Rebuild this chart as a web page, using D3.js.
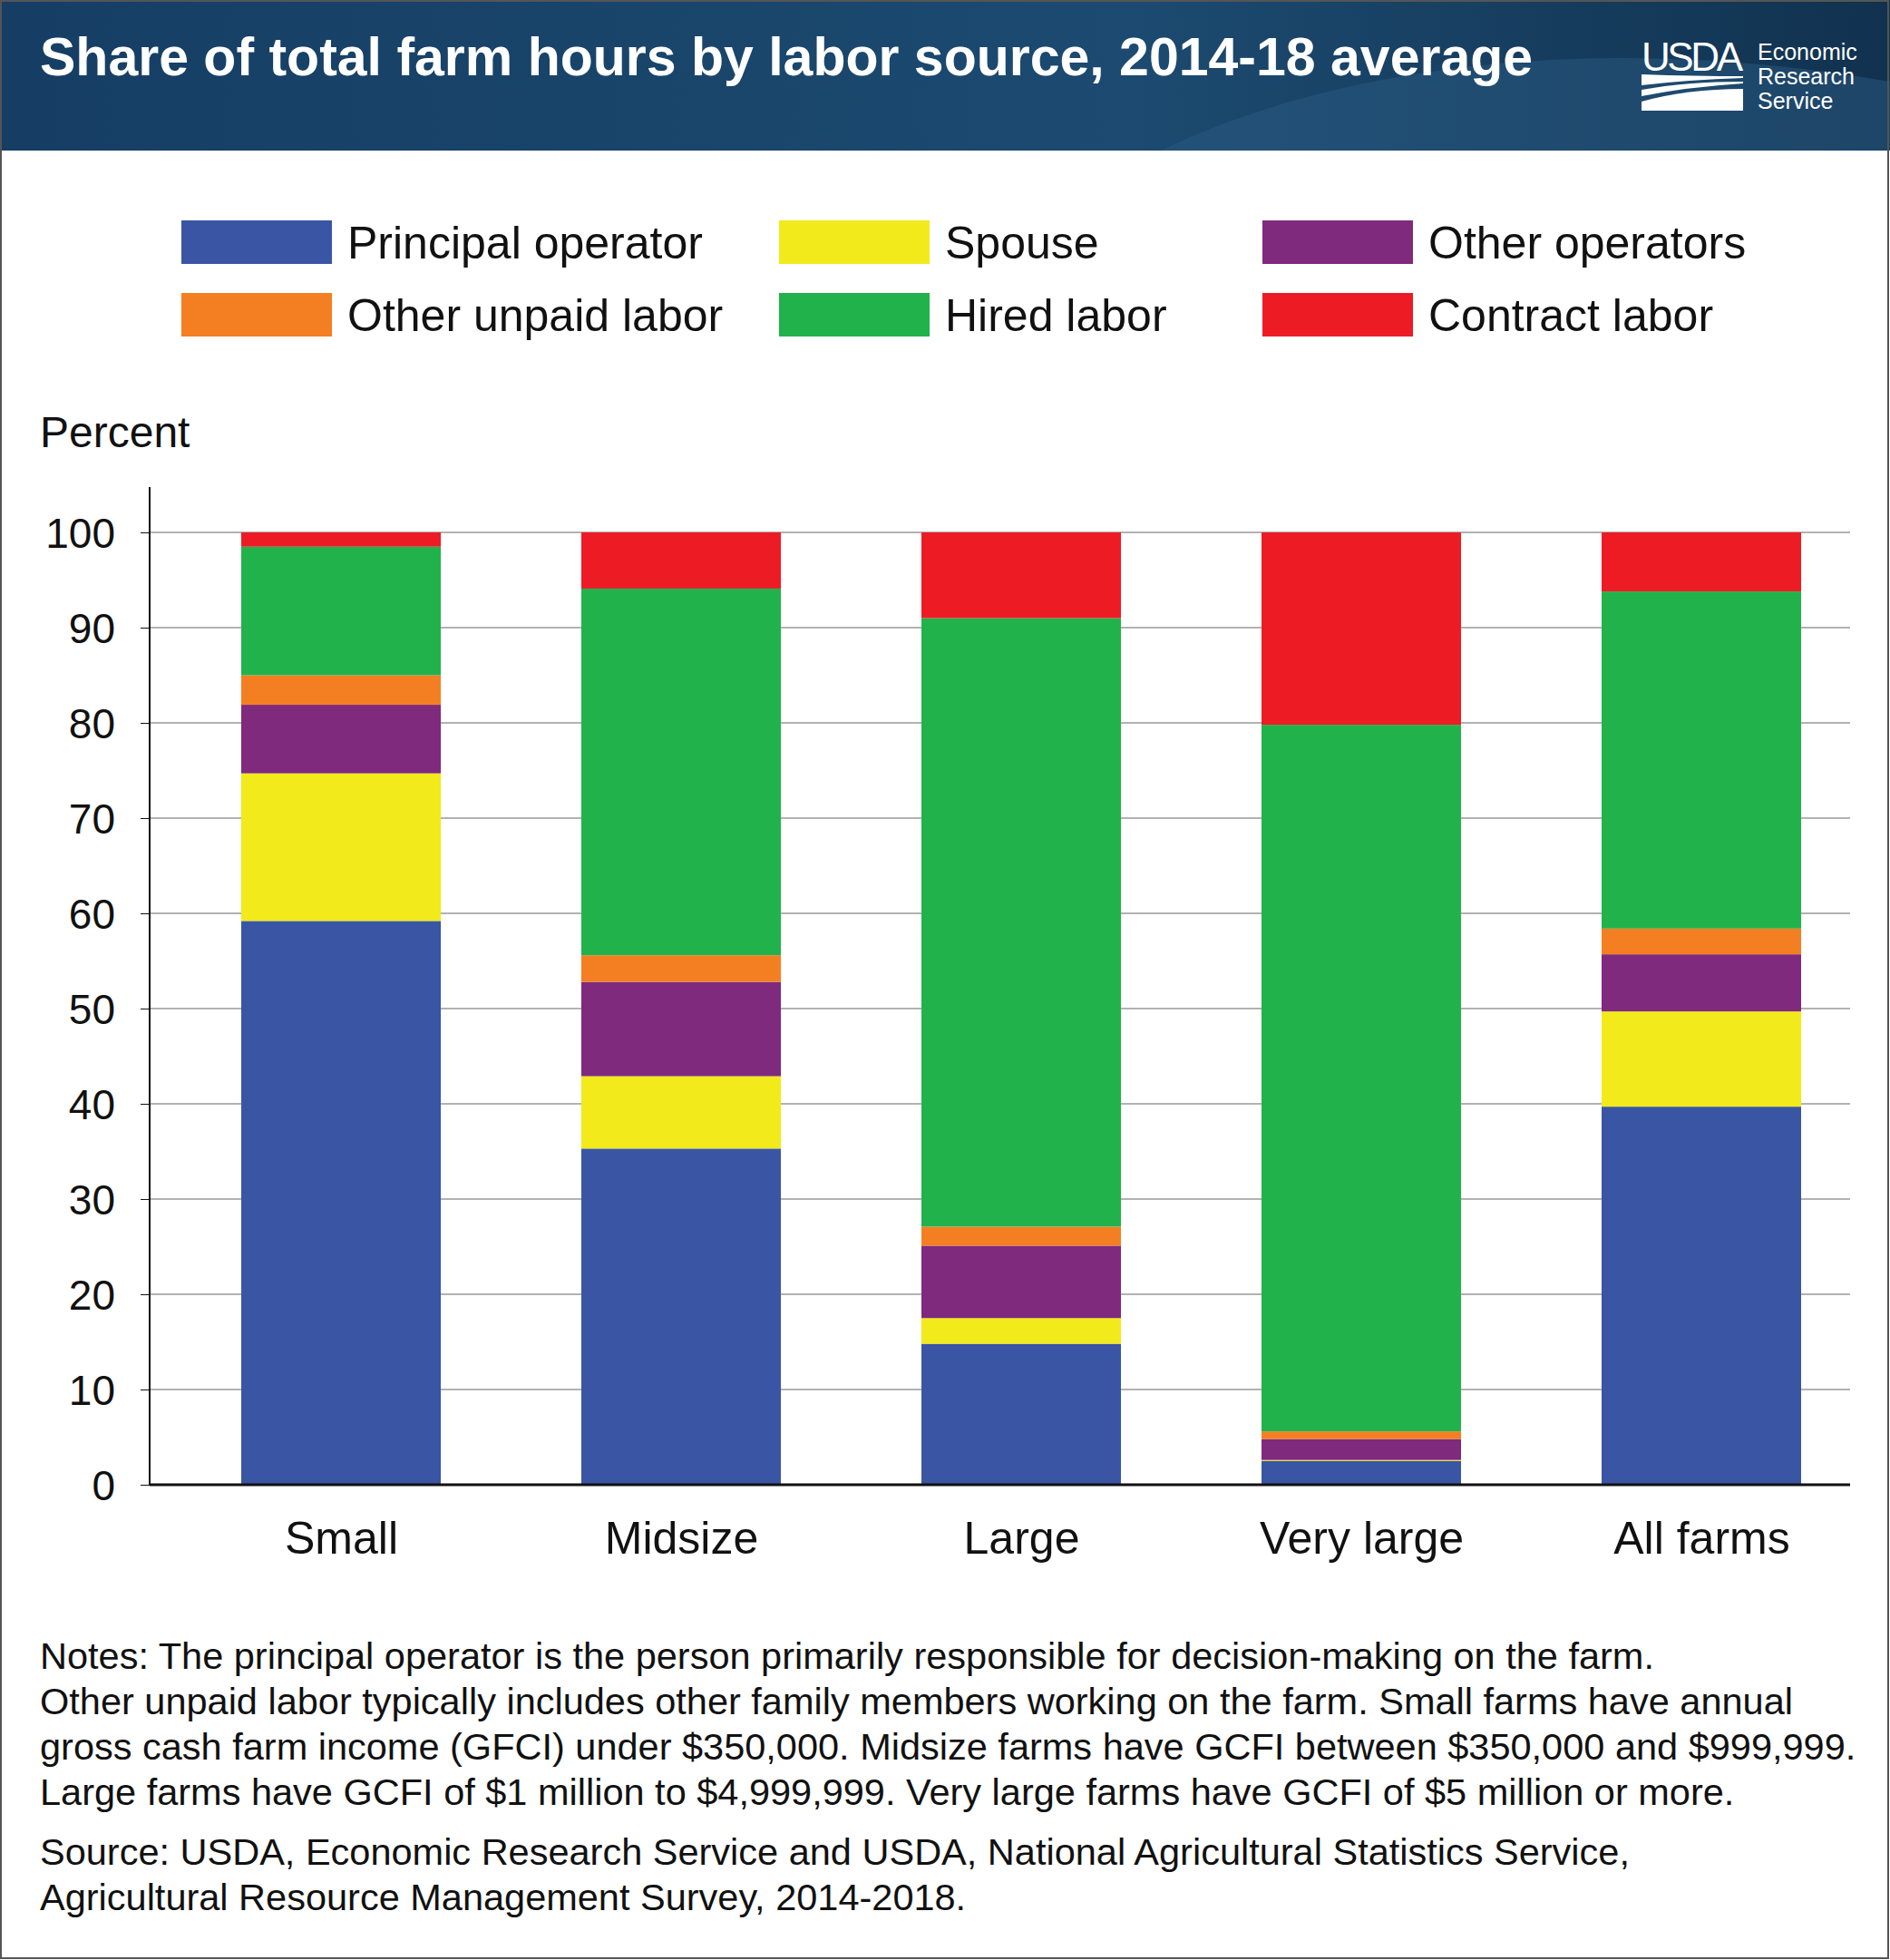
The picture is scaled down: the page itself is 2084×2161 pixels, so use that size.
<!DOCTYPE html>
<html>
<head>
<meta charset="utf-8">
<script src="https://cdn.jsdelivr.net/npm/d3@7"></script>
<style>
body { margin: 0; background: #fff; }
text { font-family: "Liberation Sans", Arial, Helvetica, sans-serif; }
</style>
</head>
<body>
<div id="chart"></div>
<script>
var categories = ["Small", "Midsize", "Large", "Very large", "All farms"];
var seriesNames = ["Principal operator", "Spouse", "Other operators", "Other unpaid labor", "Hired labor", "Contract labor"];
var COLORS = ["#3a55a4", "#f2ea1a", "#7f2a7c", "#f47f22", "#22b24c", "#ed1c24"];
var principal = [59.2, 35.3, 14.8, 2.5, 39.7];
var spouse = [15.5, 7.6, 2.7, 0.1, 10.0];
var otherOps = [7.2, 9.9, 7.6, 2.2, 6.0];
var unpaid = [3.1, 2.8, 2.0, 0.8, 2.7];
var hired = [13.5, 38.5, 63.9, 74.2, 35.4];
var contract = [1.5, 5.9, 9.0, 20.2, 6.2];
var yTicks = [0, 10, 20, 30, 40, 50, 60, 70, 80, 90, 100];
var notes = [
  "Notes: The principal operator is the person primarily responsible for decision-making on the farm.",
  "Other unpaid labor typically includes other family members working on the farm. Small farms have annual",
  "gross cash farm income (GFCI) under $350,000. Midsize farms have GCFI between $350,000 and $999,999.",
  "Large farms have GCFI of $1 million to $4,999,999. Very large farms have GCFI of $5 million or more."
];
var source = [
  "Source: USDA, Economic Research Service and USDA, National Agricultural Statistics Service,",
  "Agricultural Resource Management Survey, 2014-2018."
];

var W = 2084, H = 2161;
var svg = d3.select("#chart").append("svg").attr("width", W).attr("height", H);

// header
var defs = svg.append("defs");
var grad = defs.append("linearGradient").attr("id", "hdr").attr("x1", 0).attr("x2", 1);
grad.append("stop").attr("offset", 0).attr("stop-color", "#163e64");
grad.append("stop").attr("offset", 0.6).attr("stop-color", "#1c4a70");
grad.append("stop").attr("offset", 1).attr("stop-color", "#11324f");
svg.append("rect").attr("width", W).attr("height", 166).attr("fill", "url(#hdr)");
svg.append("path").attr("d", "M1280,166 C1500,60 1800,40 2084,90 L2084,166 Z")
  .attr("fill", "#2a5a82").attr("opacity", 0.5);
svg.append("text").attr("x", 44).attr("y", 83).attr("fill", "#fff")
  .attr("font-size", 59).attr("font-weight", "bold").text("Share of total farm hours by labor source, 2014-18 average");
// logo
var logo = svg.append("g").attr("transform", "translate(1810,44)");
logo.append("text").attr("x", 0).attr("y", 34).attr("fill", "#fff").attr("font-size", 44)
  .attr("font-family", "Liberation Serif, serif").attr("textLength", 112).text("USDA");
logo.append("path").attr("d", "M0,38 Q60,40 112,40 L112,42 Q50,44 0,50 Z").attr("fill", "#fff");
logo.append("path").attr("d", "M0,55 Q50,46 112,46 L112,48 Q50,52 0,62 Z").attr("fill", "#fff");
logo.append("path").attr("d", "M0,68 Q50,54 112,54 L112,78 L0,78 Z").attr("fill", "#fff");
["Economic", "Research", "Service"].forEach(function (t, i) {
  logo.append("text").attr("x", 128).attr("y", 22 + i * 27).attr("fill", "#fff").attr("font-size", 25).text(t);
});

// frame
svg.append("rect").attr("x", 1).attr("y", 1).attr("width", W - 3).attr("height", H - 3)
  .attr("fill", "none").attr("stroke", "#555").attr("stroke-width", 2);

// legend
var legCols = [200, 859, 1392];
var legend = svg.selectAll("g.legenditem").data(seriesNames).enter().append("g")
  .attr("class", "legenditem")
  .attr("transform", function (d, i) { return "translate(" + legCols[i % 3] + "," + (243 + Math.floor(i / 3) * 80) + ")"; });
legend.append("rect").attr("width", 166).attr("height", 48).attr("fill", function (d, i) { return COLORS[i]; });
legend.append("text").attr("x", 183).attr("y", 42).attr("font-size", 50).attr("fill", "#111").text(function (d) { return d; });

svg.append("text").attr("x", 44).attr("y", 493).attr("font-size", 48).attr("fill", "#111").text("Percent");

// scales
var x = d3.scalePoint().domain(categories).range([376, 1876]);
var y = d3.scaleLinear().domain([0, 100]).range([1637, 587]);
var barW = 220;

svg.append("g").selectAll("line").data(yTicks.slice(1)).enter().append("line")
  .attr("x1", 165).attr("x2", 2040).attr("y1", function (d) { return y(d); }).attr("y2", function (d) { return y(d); })
  .attr("stroke", "#999").attr("stroke-width", 1.5);

var table = categories.map(function (c, i) {
  return { cat: c, s0: principal[i], s1: spouse[i], s2: otherOps[i], s3: unpaid[i], s4: hired[i], s5: contract[i] };
});
var stack = d3.stack().keys(["s0", "s1", "s2", "s3", "s4", "s5"])(table);
svg.append("g").selectAll("g").data(stack).enter().append("g")
  .attr("fill", function (d, i) { return COLORS[i]; })
  .selectAll("rect").data(function (d) { return d; }).enter().append("rect")
  .attr("x", function (d) { return x(d.data.cat) - barW / 2; })
  .attr("width", barW)
  .attr("y", function (d) { return y(d[1]); })
  .attr("height", function (d) { return y(d[0]) - y(d[1]); });

// axes
var yAxis = svg.append("g").attr("transform", "translate(165,0)")
  .call(d3.axisLeft(y).tickValues(yTicks).tickSize(10).tickPadding(28));
yAxis.select(".domain").remove();
yAxis.append("line").attr("y1", 537).attr("y2", 1637).attr("stroke", "#111").attr("stroke-width", 2);
yAxis.selectAll("text").attr("font-size", 46).attr("fill", "#111").attr("dy", "0.35em");
yAxis.selectAll(".tick line").attr("stroke", "#111");

var xAxis = svg.append("g").attr("transform", "translate(0,1637)")
  .call(d3.axisBottom(x).tickSize(0).tickPadding(40));
xAxis.select(".domain").remove();
xAxis.append("line").attr("x1", 165).attr("x2", 2040).attr("stroke", "#111").attr("stroke-width", 3);
xAxis.selectAll("text").attr("font-size", 50).attr("fill", "#111");

// notes
notes.forEach(function (t, i) {
  svg.append("text").attr("x", 44).attr("y", 1840 + i * 50).attr("font-size", 41.5).attr("fill", "#111").text(t);
});
source.forEach(function (t, i) {
  svg.append("text").attr("x", 44).attr("y", 2056 + i * 50).attr("font-size", 41.5).attr("fill", "#111").text(t);
});
</script>
</body>
</html>
